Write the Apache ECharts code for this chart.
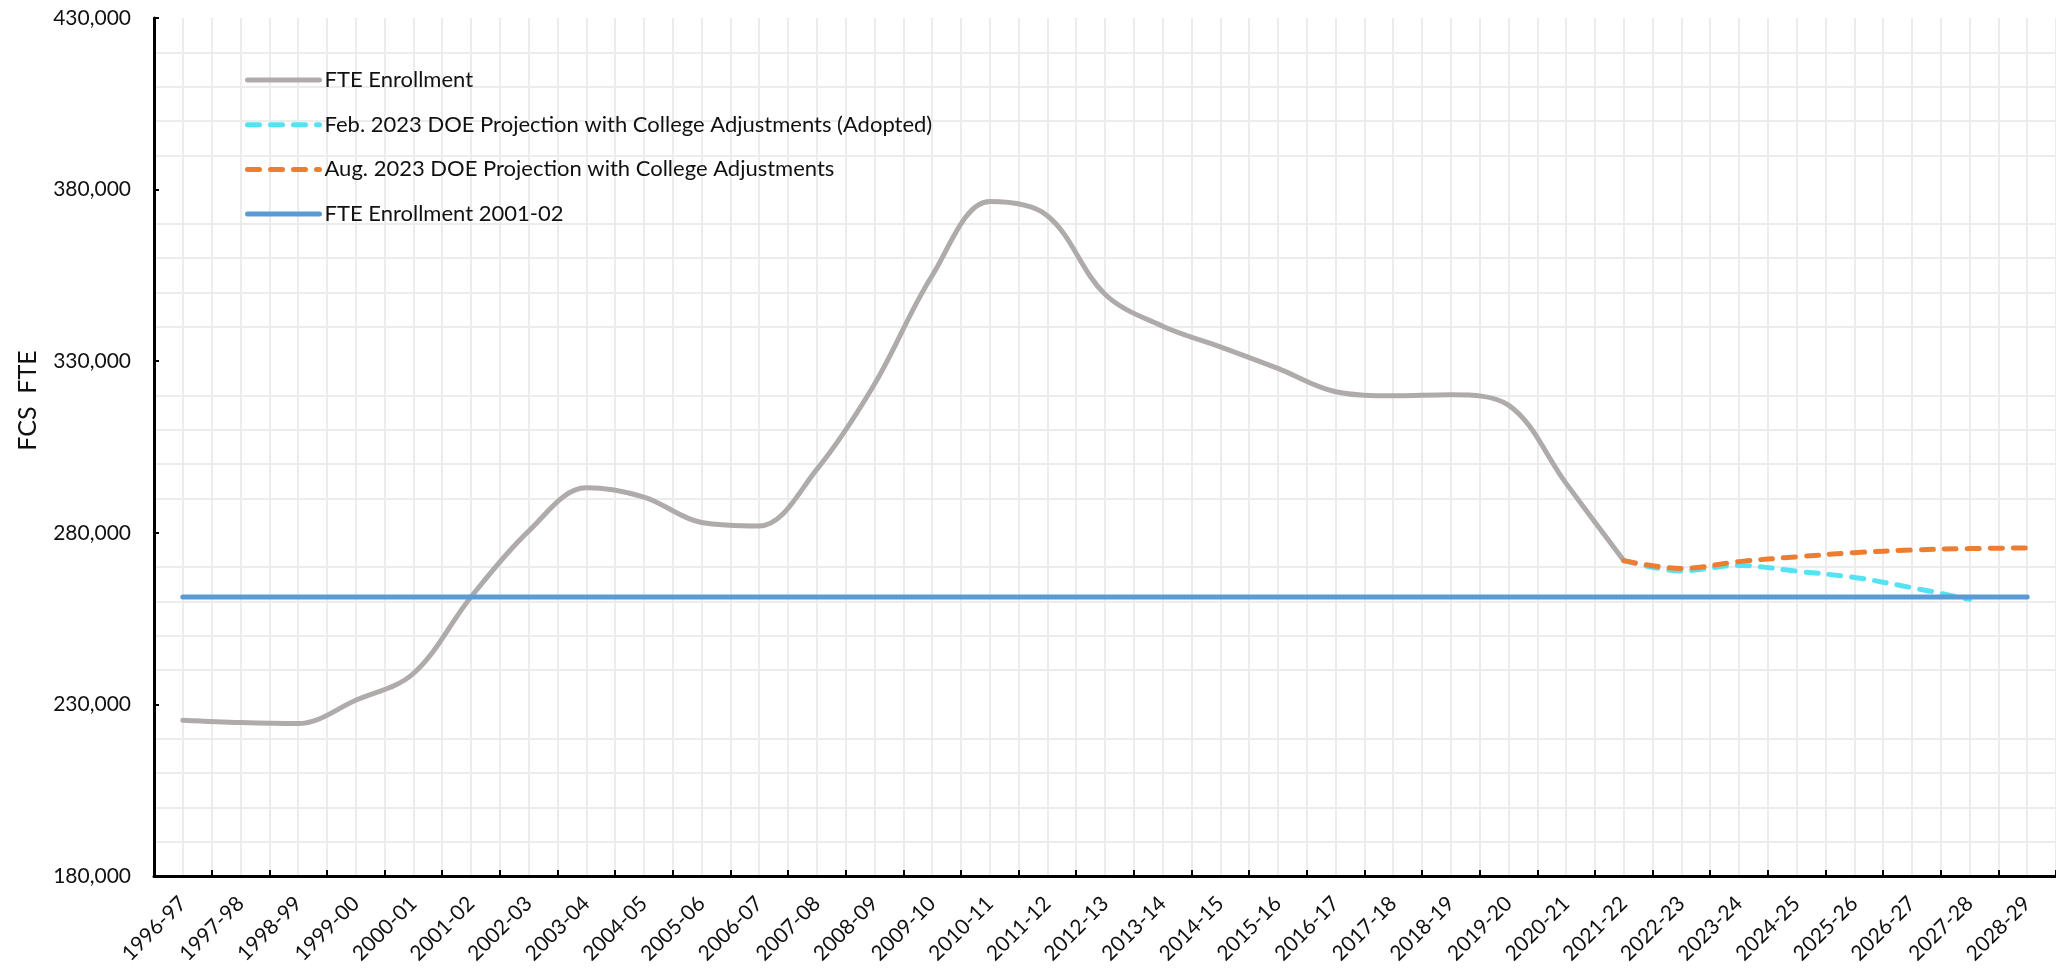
<!DOCTYPE html>
<html>
<head>
<meta charset="utf-8">
<script src="https://cdn.jsdelivr.net/npm/echarts@6/dist/echarts.min.js"></script>
<style>
html,body{margin:0;padding:0;background:#fff;}
#chart{width:2056px;height:971px;}
</style>
</head>
<body>
<div id="chart"></div>
<script>
const categories = ['1996-97','1997-98','1998-99','1999-00','2000-01','2001-02','2002-03','2003-04','2004-05','2005-06','2006-07','2007-08','2008-09','2009-10','2010-11','2011-12','2012-13','2013-14','2014-15','2015-16','2016-17','2017-18','2018-19','2019-20','2020-21','2021-22','2022-23','2023-24','2024-25','2025-26','2026-27','2027-28','2028-29'];
const fteEnrollment = [225400,224700,224400,231200,239000,261300,280500,293100,290400,283000,282000,298500,323300,354900,376500,372400,349500,340200,334200,327900,321100,319900,320200,317200,294400,271900];
const febProjection = [null,null,null,null,null,null,null,null,null,null,null,null,null,null,null,null,null,null,null,null,null,null,null,null,null,271900,268900,270500,268800,267000,264000,260600];
const augProjection = [null,null,null,null,null,null,null,null,null,null,null,null,null,null,null,null,null,null,null,null,null,null,null,null,null,271900,269600,271600,273000,274200,275000,275400,275600];
const baseline200102 = [261300,261300,261300,261300,261300,261300,261300,261300,261300,261300,261300,261300,261300,261300,261300,261300,261300,261300,261300,261300,261300,261300,261300,261300,261300,261300,261300,261300,261300,261300,261300,261300,261300];
const seriesNames = ['FTE Enrollment','Feb. 2023 DOE Projection with College Adjustments (Adopted)','Aug. 2023 DOE Projection with College Adjustments','FTE Enrollment 2001-02'];
const yMin = 180000, yMax = 430000, yStep = 50000;

const FONT = 'Lato';
const chart = echarts.init(document.getElementById('chart'), null, {renderer:'canvas'});
const gridColor = '#ececec';
chart.setOption({
  backgroundColor:'#ffffff',
  animation:false,
  textStyle:{fontFamily:FONT},
  grid:{left:154, top:18, bottom:95, width:1907, containLabel:false},
  legend:{
    orient:'vertical', left:240, top:64, padding:5, itemWidth:72, itemHeight:2, itemGap:22.7,
    data:seriesNames, z:20,
    textStyle:{fontFamily:FONT, fontSize:22, color:'#111', lineHeight:22},
    lineStyle:{width:5},
    itemStyle:{opacity:0},
    selectedMode:false
  },
  xAxis:[{
    type:'category', data:categories, boundaryGap:true,
    axisLine:{show:true, onZero:false, lineStyle:{color:'#000', width:3}},
    axisTick:{show:true, inside:true, length:6, lineStyle:{color:'#000', width:2}},
    axisLabel:{rotate:45, interval:0, margin:24, fontFamily:FONT, fontSize:21, color:'#111'},
    splitLine:{show:false}
  },{
    type:'value', min:-0.5, max:32.5, interval:0.5, position:'bottom',
    axisLine:{show:false, onZero:false}, axisTick:{show:false}, axisLabel:{show:false},
    splitLine:{show:true, lineStyle:{color:gridColor, width:2}}
  }],
  yAxis:{
    type:'value', min:yMin, max:yMax, interval:yStep,
    name:'FCS  FTE', nameLocation:'middle', nameGap:114,
    nameTextStyle:{fontFamily:FONT, fontSize:25, color:'#111', padding:[0,0,0,93]},
    axisLine:{show:true, onZero:false, lineStyle:{color:'#000', width:3}},
    axisTick:{show:true, inside:true, length:5, lineStyle:{color:'#000', width:2}},
    axisLabel:{margin:23, fontFamily:FONT, fontSize:21, color:'#111',
      formatter:v=>v.toLocaleString('en-US')},
    splitLine:{show:false},
    minorTick:{show:false, splitNumber:5},
    minorSplitLine:{show:true, lineStyle:{color:gridColor, width:2}}
  },
  series:[
    {name:seriesNames[0], type:'line', data:fteEnrollment, smooth:0.35, symbol:'none',
     lineStyle:{color:'#AFABAB', width:5, cap:'round'}, itemStyle:{color:'#AFABAB'}},
    {name:seriesNames[1], type:'line', data:febProjection, smooth:0.35, symbol:'none',
     lineStyle:{color:'#55E3F3', width:5, type:[12,11], cap:'round'}, itemStyle:{color:'#55E3F3'}},
    {name:seriesNames[2], type:'line', data:augProjection, smooth:0.35, symbol:'none',
     lineStyle:{color:'#ED7D31', width:5, type:[12,11], cap:'round'}, itemStyle:{color:'#ED7D31'}},
    {name:seriesNames[3], type:'line', data:baseline200102, symbol:'none',
     lineStyle:{color:'#5B9BD5', width:5, cap:'round'}, itemStyle:{color:'#5B9BD5'}}
  ]
});
</script>
</body>
</html>
